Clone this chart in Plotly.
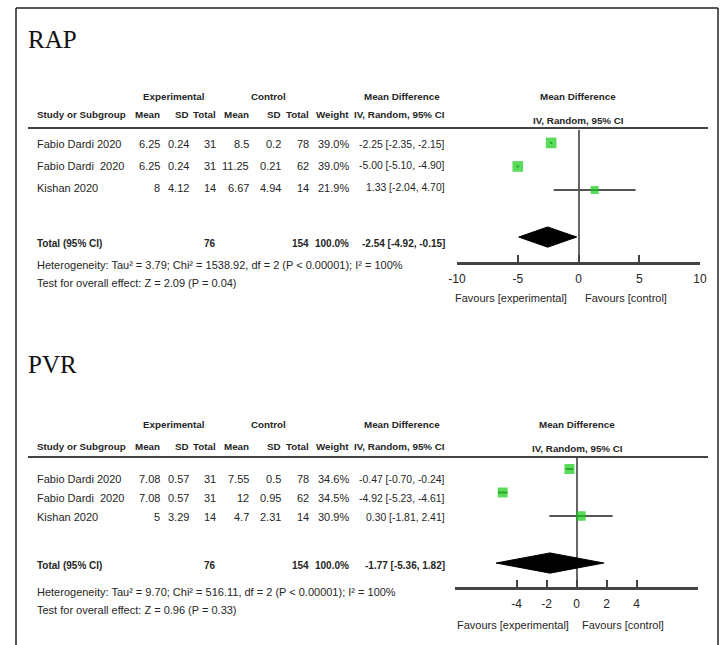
import plotly.graph_objects as go

W, H = 724, 645

# ---------------- data ----------------
studies = ["Fabio Dardi 2020", "Fabio Dardi  2020", "Kishan 2020"]

rap_exp_mean = [6.25, 6.25, 8]
rap_exp_sd = [0.24, 0.24, 4.12]
rap_exp_n = [31, 31, 14]
rap_ctl_mean = [8.5, 11.25, 6.67]
rap_ctl_sd = [0.2, 0.21, 4.94]
rap_ctl_n = [78, 62, 14]
rap_weight = [39.0, 39.0, 21.9]
rap_md = [-2.25, -5.00, 1.33]
rap_lo = [-2.35, -5.10, -2.04]
rap_hi = [-2.15, -4.90, 4.70]
rap_total = {"n_exp": 76, "n_ctl": 154, "weight": 100.0, "md": -2.54, "lo": -4.92, "hi": -0.15}
rap_het = "Heterogeneity: Tau² = 3.79; Chi² = 1538.92, df = 2 (P < 0.00001); I² = 100%"
rap_test = "Test for overall effect: Z = 2.09 (P = 0.04)"
rap_ticks = [-10, -5, 0, 5, 10]

pvr_exp_mean = [7.08, 7.08, 5]
pvr_exp_sd = [0.57, 0.57, 3.29]
pvr_exp_n = [31, 31, 14]
pvr_ctl_mean = [7.55, 12, 4.7]
pvr_ctl_sd = [0.5, 0.95, 2.31]
pvr_ctl_n = [78, 62, 14]
pvr_weight = [34.6, 34.5, 30.9]
pvr_md = [-0.47, -4.92, 0.30]
pvr_lo = [-0.70, -5.23, -1.81]
pvr_hi = [-0.24, -4.61, 2.41]
pvr_total = {"n_exp": 76, "n_ctl": 154, "weight": 100.0, "md": -1.77, "lo": -5.36, "hi": 1.82}
pvr_het = "Heterogeneity: Tau² = 9.70; Chi² = 516.11, df = 2 (P < 0.00001); I² = 100%"
pvr_test = "Test for overall effect: Z = 0.96 (P = 0.33)"
pvr_ticks = [-4, -2, 0, 2, 4]

# ---------------- style ----------------
FONT = "Liberation Sans, Arial, sans-serif"
TXT = "#262626"
FS = 11
CFS = 10.4
HFS = 9.8
TFS = 10
GREEN = "#16cc16"
LINE = "#444444"


def px(x):
    return x / W


def py(y):
    return 1 - y / H


annotations = []
shapes = []


def text(s, x, y, anchor="left", bold=False, size=FS, family=FONT, color=TXT):
    annotations.append(dict(
        text=f"<b>{s}</b>" if bold else s, x=px(x), y=py(y), xref="paper", yref="paper",
        xanchor=anchor, yanchor="middle", showarrow=False,
        font=dict(family=family, size=size, color=color)))


def hline(x0, x1, y, color=LINE, width=2):
    shapes.append(dict(type="line", xref="paper", yref="paper", x0=px(x0), x1=px(x1),
                       y0=py(y), y1=py(y), line=dict(color=color, width=width)))


def vline(x, y0, y1, color="#222", width=1.5):
    shapes.append(dict(type="line", xref="paper", yref="paper", x0=px(x), x1=px(x),
                       y0=py(y0), y1=py(y1), line=dict(color=color, width=width)))


def fmt(v):
    return f"{v:g}"


def ci(md, lo, hi):
    return f"{md:.2f} [{lo:.2f}, {hi:.2f}]"


# column right edges (pixels)
COLS = {"me": 162, "se": 191, "ne": 218, "mc": 251, "sc": 283, "nc": 311, "w": 351, "ci": 447}


def table(title, ty, y_head1, y_head2, y_line, rows_y, y_tot, y_het, y_test,
          em, es, en, cm, cs, cn, wt, md, lo, hi, tot, het, test,
          plot_head1, plot_head2, plot_center):
    text(title, 26, ty, size=25, family="Liberation Serif, Times New Roman, serif", color="#111")
    text("Experimental", 174, y_head1, anchor="center", bold=True, size=HFS)
    text("Control", 268, y_head1, anchor="center", bold=True, size=HFS)
    text("Mean Difference", 402, y_head1, anchor="center", bold=True, size=HFS)
    text("Study or Subgroup", 35, y_head2, bold=True, size=HFS)
    for key, lab in [("me", "Mean"), ("se", "SD"), ("ne", "Total"), ("mc", "Mean"),
                     ("sc", "SD"), ("nc", "Total"), ("w", "Weight"), ("ci", "IV, Random, 95% CI")]:
        text(lab, COLS[key], y_head2, anchor="right", bold=True, size=HFS)
    text("Mean Difference", plot_center, plot_head1, anchor="center", bold=True, size=HFS)
    text("IV, Random, 95% CI", plot_center, plot_head2, anchor="center", bold=True, size=HFS)
    hline(28, 708, y_line)
    for i, y in enumerate(rows_y):
        text(studies[i], 35, y)
        text(fmt(em[i]), COLS["me"], y, anchor="right")
        text(fmt(es[i]), COLS["se"], y, anchor="right")
        text(fmt(en[i]), COLS["ne"], y, anchor="right")
        text(fmt(cm[i]), COLS["mc"], y, anchor="right")
        text(fmt(cs[i]), COLS["sc"], y, anchor="right")
        text(fmt(cn[i]), COLS["nc"], y, anchor="right")
        text(f"{wt[i]:.1f}%", COLS["w"], y, anchor="right")
        text(ci(md[i], lo[i], hi[i]), COLS["ci"], y, anchor="right", size=CFS)
    text("Total (95% CI)", 35, y_tot, bold=True, size=TFS)
    text(str(tot["n_exp"]), COLS["ne"], y_tot, anchor="right", bold=True, size=TFS)
    text(str(tot["n_ctl"]), COLS["nc"], y_tot, anchor="right", bold=True, size=TFS)
    text(f"{tot['weight']:.1f}%", COLS["w"], y_tot, anchor="right", bold=True, size=TFS)
    text(ci(tot["md"], tot["lo"], tot["hi"]), COLS["ci"], y_tot, anchor="right", bold=True, size=TFS)
    text(het, 35, y_het)
    text(test, 35, y_test)


# RAP panel
table("RAP", 39, 97, 115, 128, [144, 166, 188], 243, 265, 283,
      rap_exp_mean, rap_exp_sd, rap_exp_n, rap_ctl_mean, rap_ctl_sd, rap_ctl_n,
      rap_weight, rap_md, rap_lo, rap_hi, rap_total, rap_het, rap_test, 97, 120, 578)
text("Favours [experimental]", 569, 298, anchor="right")
text("Favours [control]", 583, 298)

# PVR panel
table("PVR", 364, 425, 446, 457, [479, 498, 517], 565, 592, 610,
      pvr_exp_mean, pvr_exp_sd, pvr_exp_n, pvr_ctl_mean, pvr_ctl_sd, pvr_ctl_n,
      pvr_weight, pvr_md, pvr_lo, pvr_hi, pvr_total, pvr_het, pvr_test, 425, 448, 577)
text("Favours [experimental]", 571, 625, anchor="right")
text("Favours [control]", 580, 625)

# frame
hline(16, 718, 8, color="#222", width=1.5)
vline(16, 8, 645)
vline(718, 8, 645)

fig = go.Figure()

row_idx = [0, 1, 2]
TOTAL_ROW = 4


def forest(md, lo, hi, wt, tot, xa, ya):
    lx, ly = [], []
    for i in range(len(md)):
        lx += [lo[i], hi[i], None]
        ly += [row_idx[i], row_idx[i], None]
    fig.add_trace(go.Scatter(x=lx, y=ly, mode="lines", line=dict(color="#555", width=2),
                             xaxis=xa, yaxis=ya, hoverinfo="skip", showlegend=False))
    fig.add_trace(go.Scatter(x=md, y=row_idx, mode="markers",
                             marker=dict(symbol="square", color=GREEN,
                                         size=[1.7 * w ** 0.5 for w in wt], line=dict(width=0)),
                             xaxis=xa, yaxis=ya, showlegend=False))
    h = 0.43
    fig.add_trace(go.Scatter(x=[tot["lo"], tot["md"], tot["hi"], tot["md"], tot["lo"]],
                             y=[TOTAL_ROW, TOTAL_ROW - h, TOTAL_ROW, TOTAL_ROW + h, TOTAL_ROW],
                             mode="lines", fill="toself", fillcolor="black",
                             line=dict(color="black", width=1),
                             xaxis=xa, yaxis=ya, showlegend=False))


forest(rap_md, rap_lo, rap_hi, rap_weight, rap_total, "x", "y")
forest(pvr_md, pvr_lo, pvr_hi, pvr_weight, pvr_total, "x2", "y2")

axis_common = dict(showline=True, linecolor=LINE, linewidth=2.5, ticks="inside", ticklen=7,
                   tickwidth=1.5, tickcolor=LINE, zeroline=True, zerolinecolor="#666",
                   zerolinewidth=1.5, showgrid=False, ticklabelstandoff=4,
                   tickfont=dict(family=FONT, size=FS + 1, color=TXT), fixedrange=True)

fig.update_layout(
    width=W, height=H, margin=dict(l=0, r=0, t=0, b=0, autoexpand=False),
    paper_bgcolor="white", plot_bgcolor="rgba(0,0,0,0)",
    showlegend=False,
    xaxis=dict(domain=[px(457), px(700)], range=[-10, 10], tickvals=rap_ticks,
               ticktext=[str(t) for t in rap_ticks], anchor="y", **axis_common),
    yaxis=dict(domain=[py(262), py(130)], range=[5.06, -0.55], visible=False, fixedrange=True),
    xaxis2=dict(domain=[px(455), px(698)], range=[-8.1, 8.1], tickvals=pvr_ticks,
                ticktext=[str(t) for t in pvr_ticks], anchor="y2", **axis_common),
    yaxis2=dict(domain=[py(587), py(457)], range=[5.02, -0.51], visible=False, fixedrange=True),
    annotations=annotations, shapes=shapes,
)

fig.write_html("out.html", config={"responsive": False, "displayModeBar": False},
               post_script="document.body.style.margin='0';document.body.style.overflow='hidden';")
